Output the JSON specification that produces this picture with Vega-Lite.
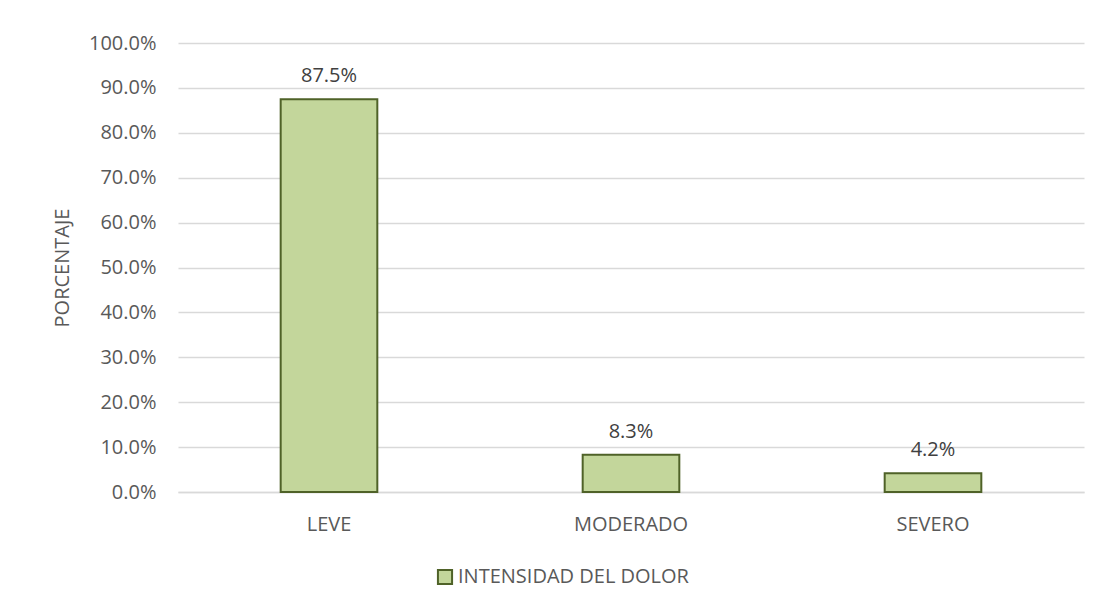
{
  "$schema": "https://vega.github.io/schema/vega-lite/v6.json",
  "autosize": "none",
  "width": 906,
  "height": 449,
  "padding": {"left": 178, "top": 43, "right": 15, "bottom": 115},
  "background": "white",
  "config": {
    "font": "Open Sans",
    "view": {"stroke": null}
  },
  "data": {
    "values": [
      {"categoria": "LEVE", "porcentaje": 0.875, "serie": "INTENSIDAD DEL DOLOR"},
      {"categoria": "MODERADO", "porcentaje": 0.083, "serie": "INTENSIDAD DEL DOLOR"},
      {"categoria": "SEVERO", "porcentaje": 0.042, "serie": "INTENSIDAD DEL DOLOR"}
    ]
  },
  "encoding": {
    "x": {
      "field": "categoria",
      "type": "nominal",
      "sort": null,
      "scale": {"paddingInner": 0.68, "paddingOuter": 0.34},
      "axis": {
        "title": null,
        "labelAngle": 0,
        "labelFontSize": 20,
        "labelColor": "#595959",
        "labelPadding": 22,
        "ticks": false,
        "domainColor": "#D9D9D9",
        "domainWidth": 1.5
      }
    },
    "y": {
      "field": "porcentaje",
      "type": "quantitative",
      "scale": {"domain": [0, 1]},
      "axis": {
        "title": "PORCENTAJE",
        "titleFontSize": 20,
        "titleFontWeight": "normal",
        "titleColor": "#595959",
        "titlePadding": 16,
        "format": ".1%",
        "values": [0, 0.1, 0.2, 0.3, 0.4, 0.5, 0.6, 0.7, 0.8, 0.9, 1.0],
        "labelOverlap": false,
        "labelFontSize": 20,
        "labelColor": "#595959",
        "labelPadding": 22,
        "ticks": false,
        "domain": false,
        "gridColor": "#D9D9D9",
        "gridWidth": 1.5
      }
    }
  },
  "layer": [
    {
      "mark": {"type": "bar", "stroke": "#4F6228", "strokeWidth": 2},
      "encoding": {
        "fill": {
          "field": "serie",
          "type": "nominal",
          "scale": {"range": ["#C3D69B"]},
          "legend": {
            "title": null,
            "orient": "none",
            "legendX": 257,
            "legendY": 524,
            "symbolType": "square",
            "symbolSize": 200,
            "symbolStrokeColor": "#4F6228",
            "symbolStrokeWidth": 2,
            "labelFontSize": 20,
            "labelLimit": 400,
            "labelColor": "#595959",
            "labelOffset": 3
          }
        }
      }
    },
    {
      "mark": {"type": "text", "baseline": "bottom", "dy": -13, "fontSize": 20, "color": "#404040"},
      "encoding": {
        "text": {"field": "porcentaje", "type": "quantitative", "format": ".1%"}
      }
    }
  ]
}
